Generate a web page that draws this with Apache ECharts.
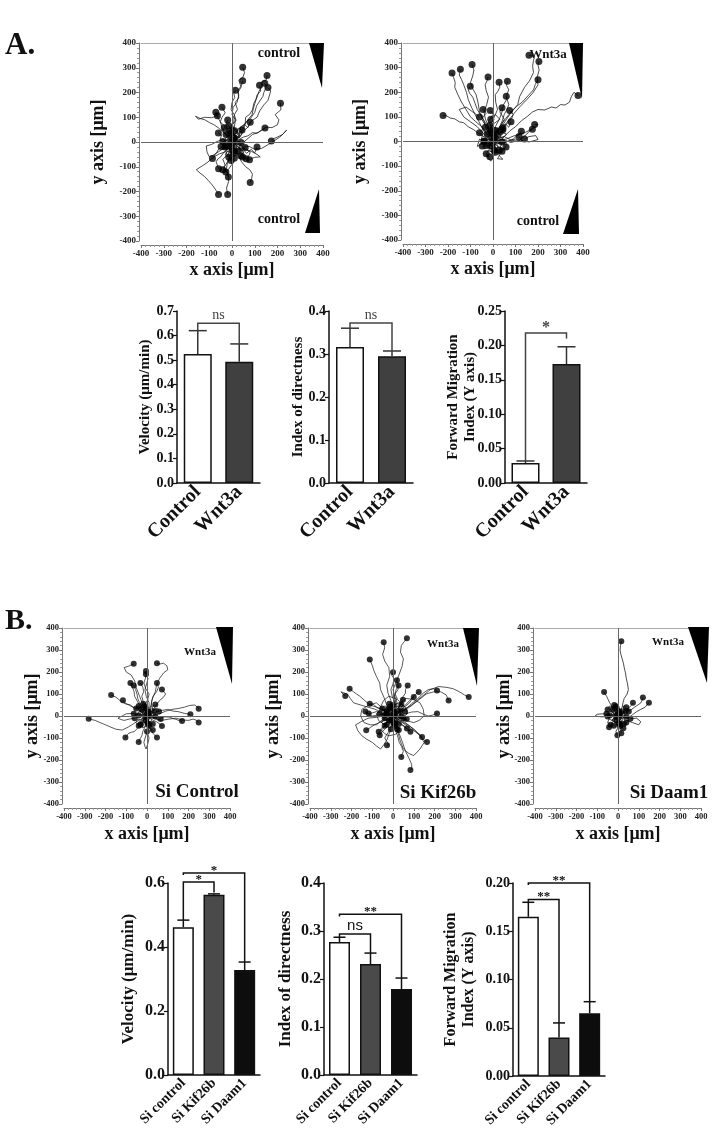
<!DOCTYPE html>
<html><head><meta charset="utf-8">
<script src="https://cdn.jsdelivr.net/npm/echarts@6/dist/echarts.min.js"></script>
<style>html,body{margin:0;padding:0;background:#fff}#c{width:712px;height:1137px}</style>
</head><body><div id="c"></div>
<script>
// ---------------- DATA ----------------
// Cell trajectories (µm); each track starts at the origin, last point = end dot
const tracksA_control = [
 [[0,0],[8,14],[-4,30],[12,48],[2,70],[18,88],[10,110],[24,132],[14,160],[30,178],[26,200],[40,222],[30,250],[48,262],[55,280],[47,302]],
 [[0,0],[12,10],[20,28],[34,40],[40,60],[58,74],[60,100],[78,112],[90,130],[96,156],[110,180],[118,204],[132,226],[126,240],[150,250],[154,269]],
 [[0,0],[-10,18],[-6,40],[10,58],[15,90],[0,110],[5,140],[22,160],[30,190],[26,210],[40,225],[47,247]],
 [[0,0],[15,20],[4,38],[-5,60],[8,82],[10,110],[-4,130],[0,160],[12,180],[8,196],[15,209]],
 [[0,0],[25,15],[36,34],[50,50],[58,72],[70,90],[88,110],[95,140],[104,166],[110,190],[126,206],[121,229]],
 [[0,0],[18,12],[30,30],[44,52],[60,80],[82,96],[100,120],[108,146],[125,170],[136,184],[140,200],[150,220],[144,237]],
 [[0,0],[35,20],[48,42],[70,60],[84,84],[110,100],[122,126],[140,150],[158,168],[165,190],[170,206],[158,220]],
 [[0,0],[20,6],[40,-10],[62,8],[90,30],[118,40],[150,60],[176,58],[200,70],[206,90],[190,110],[204,122],[215,130],[213,157]],
 [[0,0],[-10,14],[-20,25],[-34,40],[-45,60],[-50,80],[-60,95],[-66,108],[-71,120]],
 [[0,0],[-15,15],[-26,30],[-40,40],[-58,56],[-80,70],[-98,78],[-120,90],[-140,95],[-160,104],[-167,97],[-148,92],[-120,100],[-90,98],[-64,106]],
 [[0,0],[-10,16],[-10,30],[5,42],[5,55],[-12,64],[-25,75],[-19,89]],
 [[0,0],[14,6],[30,10],[50,20],[70,25],[90,38],[110,35],[130,48],[145,57]],
 [[0,0],[26,-8],[50,-20],[76,-18],[100,-30],[130,-26],[160,-10],[184,4],[210,20],[226,34],[240,48],[222,30],[200,20],[184,14],[173,4]],
 [[0,0],[-16,-6],[-30,-15],[-44,-20],[-60,-30],[-66,-42],[-75,-50],[-80,-60],[-86,-67]],
 [[0,0],[-10,-18],[-20,-30],[-36,-42],[-50,-60],[-62,-68],[-70,-80],[-64,-94],[-59,-108]],
 [[0,0],[-10,-20],[-10,-40],[-26,-56],[-40,-70],[-34,-84],[-30,-95],[-36,-104],[-41,-112]],
 [[0,0],[5,-20],[5,-40],[-8,-60],[-20,-80],[-26,-90],[-35,-100],[-30,-110],[-27,-121]],
 [[0,0],[-8,-24],[-15,-50],[-6,-70],[0,-90],[-12,-106],[-25,-120],[-20,-132],[-16,-141]],
 [[0,0],[10,-14],[10,-30],[-2,-44],[-10,-55],[-8,-66],[-4,-75]],
 [[0,0],[14,-8],[25,-20],[38,-28],[50,-40],[44,-48],[40,-55],[47,-61]],
 [[0,0],[20,-14],[40,-25],[60,-30],[80,-40],[76,-52],[70,-60],[62,-68]],
 [[0,0],[30,-12],[60,-30],[86,-38],[110,-50],[124,-60],[100,-62],[90,-65],[77,-72]],
 [[0,0],[14,-30],[30,-60],[42,-80],[60,-100],[78,-112],[90,-130],[86,-148],[80,-164]],
 [[0,0],[-16,-20],[-30,-40],[-56,-48],[-80,-60],[-110,-84],[-130,-96],[-157,-112],[-140,-126],[-120,-140],[-104,-156],[-90,-170],[-74,-190],[-59,-212]],
 [[0,0],[-4,-30],[-10,-60],[-20,-84],[-25,-110],[-16,-134],[-15,-160],[-24,-186],[-19,-212]],
 [[0,0],[-20,6],[-40,10],[-66,2],[-90,-10],[-113,-16],[-110,-40],[-100,-60],[-80,-52],[-60,-40],[-44,-30],[-30,-20]]
];
const coreA_control = [
 [[0,0],[8,-12],[-6,-20],[-18,-8],[-10,10],[-25,18],[-35,5],[-28,-15]],
 [[0,0],[-12,6],[-4,22],[14,30],[22,15],[35,20],[28,38],[12,45]],
 [[0,0],[14,-6],[26,4],[38,-10],[30,-28],[46,-36],[58,-22]],
 [[0,0],[-6,-14],[6,-30],[-8,-42],[-22,-36],[-30,-52],[-14,-62]],
 [[0,0],[10,12],[-2,26],[-16,20],[-28,34],[-20,50],[-34,58]],
 [[0,0],[-14,-4],[-26,8],[-40,-2],[-52,10],[-46,28],[-60,36]],
 [[0,0],[6,18],[20,10],[30,26],[18,40],[30,56],[44,48]],
 [[0,0],[-8,10],[4,16],[-4,-8],[12,-18],[20,-4],[10,8]],
 [[0,0],[16,14],[8,30],[24,40],[10,58],[-6,50],[-14,66]],
 [[0,0],[-18,-16],[-10,-32],[-26,-44],[-16,-58],[4,-50],[10,-66]],
 [[0,0],[22,-14],[12,-28],[28,-40],[42,-30],[52,-44],[38,-56]],
 [[0,0],[-20,12],[-12,-4],[-30,-12],[-22,-26],[-40,-30],[-48,-18]],
 [[0,0],[12,24],[30,18],[44,32],[36,60],[56,70],[70,58],[80,80]],
 [[0,0],[-24,24],[-40,44],[-30,64],[-52,80],[-44,100],[-30,118],[-44,140]],
 [[0,0],[24,-30],[44,-24],[64,-46],[84,-30],[100,-44],[110,-20]]
];
const tracksA_wnt3a = [
 [[0,0],[14,20],[20,40],[40,62],[60,90],[82,120],[110,150],[118,182],[140,220],[162,246],[180,280],[176,306],[180,330],[185,345],[160,350]],
 [[0,0],[20,26],[40,50],[64,80],[90,110],[118,140],[150,170],[176,196],[200,230],[196,260],[205,290],[200,310],[204,325]],
 [[0,0],[14,28],[30,60],[54,90],[80,120],[104,142],[130,160],[156,186],[180,210],[188,232],[200,251]],
 [[0,0],[26,14],[50,20],[76,44],[100,60],[126,84],[150,100],[176,120],[200,130],[230,128],[260,140],[280,136],[300,150],[320,148],[340,160],[348,182],[360,200],[370,192],[378,187]],
 [[0,0],[10,30],[10,60],[28,90],[40,120],[46,148],[60,170],[62,192],[70,210],[60,228],[64,245]],
 [[0,0],[-10,36],[-10,70],[6,100],[20,130],[12,160],[10,190],[22,204],[30,220],[27,241]],
 [[0,0],[-12,30],[-20,60],[-34,92],[-40,120],[-28,150],[-20,180],[-30,206],[-35,230],[-26,248],[-22,262]],
 [[0,0],[-14,26],[-30,50],[-42,86],[-60,120],[-66,156],[-75,190],[-90,214],[-100,240],[-90,266],[-85,290],[-93,313]],
 [[0,0],[-20,22],[-40,40],[-60,76],[-80,110],[-96,140],[-110,170],[-118,200],[-130,230],[-140,252],[-150,270],[-145,293]],
 [[0,0],[-26,30],[-50,60],[-76,80],[-100,100],[-120,130],[-140,160],[-156,190],[-170,220],[-168,240],[-175,260],[-182,278]],
 [[0,0],[-14,36],[-30,70],[-50,100],[-70,130],[-80,156],[-90,180],[-104,196],[-110,210],[-101,224]],
 [[0,0],[-30,14],[-60,30],[-86,48],[-110,60],[-130,76],[-150,80],[-170,92],[-190,95],[-206,104],[-222,106]],
 [[0,0],[16,30],[30,60],[42,86],[50,110],[62,130],[70,150],[64,168],[59,184]],
 [[0,0],[-10,26],[-20,50],[-36,70],[-50,90],[-40,104],[-30,115],[-44,130]],
 [[0,0],[10,20],[10,40],[-6,60],[-20,80],[-10,96],[0,110],[-12,126]],
 [[0,0],[8,26],[20,50],[38,70],[50,90],[40,106],[30,120],[40,137]],
 [[0,0],[20,20],[40,40],[52,62],[70,80],[84,96],[90,110],[74,126]],
 [[0,0],[30,6],[60,10],[90,22],[120,30],[146,38],[170,50],[188,58],[200,70],[185,69]],
 [[0,0],[26,12],[50,20],[80,6],[110,0],[130,14],[150,30],[162,42],[175,50]],
 [[0,0],[20,-6],[40,-10],[64,0],[90,10],[104,22],[120,30],[126,42]],
 [[0,0],[26,-4],[50,-5],[76,4],[100,10],[116,4],[130,0],[116,20]],
 [[0,0],[10,16],[20,30],[36,36],[50,40],[44,56]],
 [[0,0],[10,-16],[10,-30],[22,-46],[30,-60],[44,-72],[50,-80],[36,-76],[20,-70],[30,-54],[40,-40]],
 [[0,0],[-10,-16],[-20,-30],[-6,-44],[5,-55],[-2,-70],[-10,-80],[-22,-64],[-30,-50]],
 [[0,0],[40,10],[80,-4],[120,6],[160,-2],[200,8],[190,24],[160,20],[140,10]]
];
const coreA_wnt3a = [
 [[0,0],[8,-12],[-6,-20],[-18,-8],[-10,10],[-25,18],[-35,5],[-28,-15]],
 [[0,0],[-12,6],[-4,22],[14,30],[22,15],[35,20],[28,38],[12,45]],
 [[0,0],[14,-6],[26,4],[38,-10],[30,-28],[46,-36],[58,-22]],
 [[0,0],[-6,-14],[6,-30],[-8,-42],[-22,-36],[-30,-52],[-14,-62]],
 [[0,0],[10,12],[-2,26],[-16,20],[-28,34],[-20,50],[-34,58]],
 [[0,0],[-14,-4],[-26,8],[-40,-2],[-52,10],[-46,28],[-60,36]],
 [[0,0],[6,18],[20,10],[30,26],[18,40],[30,56],[44,48]],
 [[0,0],[16,14],[8,30],[24,40],[10,58],[-6,50],[-14,66]],
 [[0,0],[-20,12],[-12,-4],[-30,-12],[-22,-26],[-40,-30],[-48,-18]],
 [[0,0],[12,24],[30,18],[44,32],[36,60],[56,70],[70,58],[80,80]],
 [[0,0],[-40,30],[-70,60],[-100,80],[-130,100],[-150,130],[-120,140],[-90,120],[-60,100]],
 [[0,0],[20,-20],[50,-30],[60,-10],[40,10],[60,30],[30,40]],
 [[0,0],[-30,-20],[-50,-10],[-70,-20],[-60,10],[-40,0]],
 [[0,0],[-20,40],[0,70],[30,90],[10,110],[-10,90]]
];
const tracksB_siControl = [
 [[0,0],[-20,-10],[-40,-20],[-66,-36],[-90,-50],[-120,-64],[-150,-60],[-176,-50],[-200,-40],[-226,-30],[-250,-20],[-268,-16],[-281,-12]],
 [[0,0],[-20,16],[-40,30],[-60,36],[-80,50],[-106,56],[-130,70],[-150,86],[-173,95]],
 [[0,0],[-16,12],[-30,20],[-50,34],[-70,40],[-86,50],[-100,55],[-110,66],[-116,72]],
 [[0,0],[-10,26],[-20,50],[-30,76],[-40,100],[-52,130],[-60,160],[-76,186],[-100,200],[-110,220],[-90,226],[-64,237]],
 [[0,0],[10,30],[10,60],[-4,90],[-10,120],[-2,146],[5,170],[-4,190],[-5,205]],
 [[0,0],[-10,24],[-10,50],[4,76],[10,100],[-6,124],[-15,150],[-8,170],[-5,190]],
 [[0,0],[10,26],[20,50],[26,80],[40,110],[46,140],[60,170],[80,196],[100,210],[96,228],[80,240],[60,236],[48,240]],
 [[0,0],[-16,20],[-30,40],[-46,66],[-60,90],[-62,110],[-70,130],[-80,150]],
 [[0,0],[-10,20],[-20,40],[-36,60],[-45,80],[-48,100],[-55,120],[-64,139]],
 [[0,0],[-6,26],[-10,50],[-20,70],[-25,90],[-16,110],[-20,130],[-32,150]],
 [[0,0],[12,20],[20,40],[22,66],[30,90],[46,110],[55,130],[48,150]],
 [[0,0],[16,14],[30,30],[46,50],[60,70],[78,84],[90,100],[72,120]],
 [[0,0],[30,4],[60,10],[90,22],[120,30],[150,34],[180,40],[206,48],[230,50],[244,40],[249,33]],
 [[0,0],[26,12],[50,20],[76,26],[100,30],[126,22],[150,20],[180,12],[209,8]],
 [[0,0],[30,-6],[60,-10],[86,-4],[110,-5],[126,-12],[140,-15],[156,-22],[169,-23]],
 [[0,0],[36,-12],[70,-20],[106,-14],[140,-10],[170,-18],[200,-20],[222,-14],[240,-20],[249,-30]],
 [[0,0],[-16,-20],[-30,-40],[-46,-56],[-60,-70],[-76,-74],[-90,-80],[-98,-90],[-104,-98]],
 [[0,0],[-6,-26],[-10,-50],[-20,-70],[-25,-90],[-34,-104],[-40,-118]],
 [[0,0],[6,-26],[10,-50],[20,-64],[30,-80],[40,-90],[48,-98]],
 [[0,0],[16,-10],[30,-20],[46,-26],[60,-35],[66,-40],[72,-45]],
 [[0,0],[-8,-10],[-15,-20],[-24,-22],[-30,-25],[-32,-38]],
 [[0,0],[-10,10],[-20,20],[-28,28],[-35,35],[-40,45]],
 [[0,0],[5,-30],[5,-60],[-6,-90],[-15,-120],[-10,-138],[-5,-150],[4,-126],[10,-100],[0,-70]],
 [[0,0],[-30,6],[-60,12],[-100,10],[-120,0],[-140,-10],[-126,-16],[-110,-20],[-86,-14],[-60,-10]]
];
const coreB_siControl = [
 [[0,0],[-10,12],[4,24],[18,14],[30,26],[24,44],[40,52]],
 [[0,0],[12,-8],[6,-24],[-10,-30],[-4,-46],[-20,-54],[-30,-40]],
 [[0,0],[-16,-6],[-28,-20],[-44,-14],[-54,-30],[-40,-44]],
 [[0,0],[8,16],[-8,30],[-22,24],[-30,40],[-18,56]],
 [[0,0],[18,6],[28,-10],[44,-4],[52,-20],[66,-14]],
 [[0,0],[-6,-18],[14,-26],[24,-40],[12,-56],[28,-64]],
 [[0,0],[-20,8],[-32,24],[-24,40],[-40,46],[-52,34]],
 [[0,0],[10,-4],[20,12],[10,26],[26,34],[36,22]],
 [[0,0],[-12,-12],[-2,-22],[-18,-30],[-8,-40],[6,-34]],
 [[0,0],[14,20],[28,14],[36,30],[50,36],[58,20]],
 [[0,0],[-24,-2],[-20,16],[-40,20],[-48,4],[-64,10]],
 [[0,0],[4,-14],[-14,-10],[-20,6],[-6,14],[8,4]]
];
const tracksB_siKif26b = [
 [[0,0],[10,30],[20,60],[8,90],[0,120],[16,156],[30,190],[44,226],[50,260],[36,290],[40,320],[56,340],[67,353]],
 [[0,0],[-6,36],[-10,70],[-24,104],[-30,140],[-16,180],[-20,220],[-40,250],[-50,280],[-40,310],[-45,335]],
 [[0,0],[-16,24],[-30,50],[-44,86],[-60,120],[-64,150],[-80,180],[-92,206],[-100,230],[-112,257]],
 [[0,0],[10,30],[10,60],[-4,90],[-10,120],[0,146],[5,170],[-6,186],[0,199]],
 [[0,0],[14,24],[20,50],[6,76],[10,100],[24,120],[25,140],[19,162]],
 [[0,0],[-10,20],[-10,40],[6,60],[20,80],[10,100],[15,120],[27,139]],
 [[0,0],[16,20],[30,40],[36,66],[50,90],[60,104],[60,120],[71,139]],
 [[0,0],[20,16],[40,30],[60,50],[80,70],[96,86],[110,100],[124,109]],
 [[0,0],[30,14],[60,30],[90,56],[120,80],[146,104],[170,120],[194,124],[212,116]],
 [[0,0],[40,20],[80,40],[120,70],[160,100],[196,110],[230,110],[256,96],[268,71]],
 [[0,0],[44,26],[90,50],[136,86],[180,120],[220,134],[260,130],[290,124],[320,110],[344,96],[365,86]],
 [[0,0],[30,6],[60,10],[90,18],[120,20],[146,8],[170,0],[190,4],[212,11]],
 [[0,0],[-30,12],[-60,20],[-90,32],[-120,40],[-156,50],[-190,60],[-206,80],[-220,100],[-240,106],[-250,110],[-240,98],[-230,91]],
 [[0,0],[-26,16],[-50,30],[-80,40],[-110,50],[-136,70],[-160,90],[-176,100],[-190,110],[-209,124]],
 [[0,0],[-20,10],[-40,20],[-60,30],[-80,40],[-92,52],[-100,60],[-112,56]],
 [[0,0],[-26,6],[-50,10],[-76,4],[-100,0],[-116,8],[-130,15],[-133,21]],
 [[0,0],[-20,4],[-40,5],[-60,14],[-80,20],[-100,14],[-117,11]],
 [[0,0],[-20,-10],[-40,-20],[-66,-30],[-90,-40],[-106,-50],[-120,-60],[-129,-65]],
 [[0,0],[-16,-14],[-30,-30],[-40,-46],[-50,-60],[-60,-66],[-69,-72]],
 [[0,0],[-10,-20],[-20,-40],[-36,-56],[-50,-70],[-58,-80],[-64,-88]],
 [[0,0],[-6,-26],[-10,-50],[-24,-76],[-40,-100],[-30,-116],[-20,-130],[-29,-133]],
 [[0,0],[6,-30],[10,-60],[22,-90],[30,-120],[42,-140],[50,-160],[44,-174],[40,-186]],
 [[0,0],[16,-40],[30,-80],[46,-120],[60,-160],[76,-190],[90,-220],[90,-236],[84,-246]],
 [[0,0],[30,-20],[60,-40],[90,-60],[120,-80],[136,-96],[150,-110],[164,-118]],
 [[0,0],[26,-16],[50,-30],[76,-44],[100,-60],[116,-74],[130,-85],[140,-95]],
 [[0,0],[16,-14],[30,-30],[46,-40],[60,-50],[67,-57]],
 [[0,0],[20,-20],[40,-40],[56,-50],[70,-60],[84,-72]],
 [[0,0],[10,16],[20,30],[32,46],[40,60],[48,74]],
 [[0,0],[20,16],[40,30],[60,44],[80,60],[90,74],[100,86]],
 [[0,0],[-40,0],[-80,-6],[-120,-10],[-150,-24],[-180,-40],[-170,-66],[-150,-90],[-126,-106],[-100,-120],[-80,-136],[-60,-150],[-44,-130],[-30,-110],[-20,-84],[-10,-60]],
 [[0,0],[30,-16],[60,-30],[100,-60],[130,-90],[150,-120],[130,-150],[100,-180],[76,-170],[50,-150],[34,-110],[20,-60]],
 [[0,0],[-30,20],[-56,40],[-80,60],[-116,50],[-150,30],[-156,0],[-140,-30],[-110,-40],[-80,-40],[-60,-24],[-40,-10]],
 [[0,0],[20,30],[40,56],[60,80],[96,76],[130,60],[146,30],[150,0],[126,-20],[100,-30],[76,-24],[50,-10]],
 [[0,0],[-30,30],[0,46],[30,40],[36,6],[20,-30],[0,-34],[-20,-20]],
 [[0,0],[-30,-30],[-60,-60],[-40,-80],[-20,-90],[10,-84],[30,-70],[24,-50],[10,-30]],
 [[0,0],[26,26],[50,50],[20,76],[-20,90],[-46,70],[-60,40],[-44,24],[-30,10]]
];
const coreB_siKif26b = [
 [[0,0],[-10,12],[4,24],[18,14],[30,26],[24,44],[40,52]],
 [[0,0],[12,-8],[6,-24],[-10,-30],[-4,-46],[-20,-54],[-30,-40]],
 [[0,0],[-16,-6],[-28,-20],[-44,-14],[-54,-30],[-40,-44]],
 [[0,0],[8,16],[-8,30],[-22,24],[-30,40],[-18,56]],
 [[0,0],[18,6],[28,-10],[44,-4],[52,-20],[66,-14]],
 [[0,0],[-6,-18],[14,-26],[24,-40],[12,-56],[28,-64]],
 [[0,0],[-20,8],[-32,24],[-24,40],[-40,46],[-52,34]],
 [[0,0],[10,-4],[20,12],[10,26],[26,34],[36,22]],
 [[0,0],[-12,-12],[-2,-22],[-18,-30],[-8,-40],[6,-34]],
 [[0,0],[14,20],[28,14],[36,30],[50,36],[58,20]],
 [[0,0],[-24,-2],[-20,16],[-40,20],[-48,4],[-64,10]],
 [[0,0],[4,-14],[-14,-10],[-20,6],[-6,14],[8,4]],
 [[0,0],[40,-10],[70,10],[60,40],[30,60],[0,50]],
 [[0,0],[-40,-40],[-70,-20],[-80,10],[-60,30],[-30,20]]
];
const tracksB_siDaam1 = [
 [[0,0],[10,20],[20,40],[24,60],[30,80],[44,100],[50,120],[46,146],[40,170],[36,196],[30,220],[26,240],[20,260],[14,280],[10,300],[12,320],[16,340]],
 [[0,0],[-10,16],[-20,30],[-30,46],[-40,60],[-48,76],[-55,90],[-62,100],[-67,109]],
 [[0,0],[16,10],[30,20],[44,30],[55,40],[66,50],[72,60]],
 [[0,0],[20,10],[40,20],[60,26],[80,40],[96,50],[110,60],[116,72],[120,84]],
 [[0,0],[26,-4],[50,-10],[70,6],[90,20],[110,30],[130,40],[140,50],[149,60]],
 [[0,0],[-10,-10],[-20,-20],[-28,-30],[-35,-40],[-43,-51]],
 [[0,0],[4,-20],[5,-40],[-2,-56],[-10,-70],[-6,-80],[-3,-88]],
 [[0,0],[12,-14],[20,-30],[14,-46],[10,-60],[14,-70],[16,-78]],
 [[0,0],[40,-20],[70,-30],[100,-40],[110,-26],[90,-10],[60,-12]],
 [[0,0],[-40,6],[-70,10],[-100,8],[-110,0],[-80,-4],[-50,-2]]
];
const coreB_siDaam1 = [
 [[0,0],[-10,12],[4,24],[18,14],[30,26],[24,44],[40,40]],
 [[0,0],[12,-8],[6,-24],[-10,-30],[-4,-46],[-20,-44]],
 [[0,0],[-16,-6],[-28,-20],[-44,-14],[-50,-30],[-36,-40]],
 [[0,0],[8,16],[-8,30],[-22,24],[-30,40],[-18,50]],
 [[0,0],[18,6],[28,-10],[44,-4],[50,-20],[40,-30]],
 [[0,0],[-6,-18],[14,-26],[24,-40],[12,-50],[26,-56]],
 [[0,0],[-20,8],[-32,24],[-24,40],[-40,46],[-50,30]],
 [[0,0],[10,-4],[20,12],[10,26],[26,34],[36,22]],
 [[0,0],[-12,-12],[-2,-22],[-18,-30],[-8,-40],[6,-34]],
 [[0,0],[14,20],[28,14],[36,30],[50,36],[52,20]],
 [[0,0],[-24,-2],[-20,16],[-40,20],[-48,4],[-56,10]],
 [[0,0],[4,-14],[-14,-10],[-20,6],[-6,14],[8,4]],
 [[0,0],[30,10],[20,30],[0,36],[-14,20],[-4,8]],
 [[0,0],[-30,-20],[-10,-30],[10,-20],[20,0],[6,14]]
];
// short tracks of cells that barely moved (dense centre of every plot)
const coreSmall = [
 [[0,0],[6,8],[-4,14],[-12,4],[-20,12],[-14,24],[-26,30]],
 [[0,0],[-6,-8],[4,-16],[14,-8],[22,-18],[16,-30],[28,-36]],
 [[0,0],[10,-2],[8,12],[20,18],[14,30],[2,26],[-6,36]],
 [[0,0],[-10,2],[-8,-12],[-20,-18],[-14,-30],[-2,-26],[6,-36]],
 [[0,0],[4,10],[16,6],[12,-6],[24,-10],[30,4],[40,-2]],
 [[0,0],[-4,-10],[-16,-6],[-12,6],[-24,10],[-30,-4],[-40,2]],
 [[0,0],[12,12],[0,20],[-12,12],[-8,0],[-18,-10],[-6,-18]],
 [[0,0],[-12,-12],[0,-20],[12,-12],[8,0],[18,10],[6,18]],
 [[0,0],[20,4],[26,20],[10,30],[-4,20],[-16,30],[-10,44]],
 [[0,0],[-20,-4],[-26,-20],[-10,-30],[4,-20],[16,-30],[10,-44]]
];

// Bar charts: means and SEM
const catsA = ['Control', 'Wnt3a'];
const velocityA = [0.525, 0.493];
const velocityA_sem = [0.095, 0.073];
const directnessA = [0.316, 0.295];
const directnessA_sem = [0.044, 0.012];
const forwardA = [0.029, 0.173];
const forwardA_sem = [0.003, 0.025];

const catsB = ['Si control', 'Si Kif26b', 'Si Daam1'];
const velocityB = [0.462, 0.563, 0.328];
const velocityB_sem = [0.022, 0.003, 0.025];
const directnessB = [0.277, 0.231, 0.179];
const directnessB_sem = [0.010, 0.023, 0.023];
const forwardB = [0.165, 0.040, 0.065];
const forwardB_sem = [0.015, 0.015, 0.012];

// Significance brackets: [from, to, level, left end, right end]
const sigVelA = [[0, 1, 0.650, 0.620, 0.566]];
const sigVelA_text = ['ns'];
const sigDirA = [[0, 1, 0.372, 0.360, 0.307]];
const sigDirA_text = ['ns'];
const sigFwdA = [[0, 1, 0.218, 0.032, 0.210]];
const sigFwdA_text = ['*'];
const sigVelB = [[0, 1, 0.603, 0.484, 0.570], [0, 2, 0.631, 0.625, 0.353]];
const sigVelB_text = ['*', '*'];
const sigDirB = [[0, 1, 0.294, 0.287, 0.254], [0, 2, 0.335, 0.330, 0.202]];
const sigDirB_text = ['ns', '**'];
const sigFwdB = [[0, 1, 0.183, 0.180, 0.055], [0, 2, 0.200, 0.198, 0.077]];
const sigFwdB_text = ['**', '**'];

// ---------------- CHART ----------------
const SERIF = '"Liberation Serif","Times New Roman",serif';
const SANS = '"Liberation Sans",Arial,sans-serif';
const grids = [], xAxes = [], yAxes = [], series = [];

function addTraj(tracks, box, o) {
  const gi = grids.length;
  grids.push({left: box[0], top: box[1], width: box[2], height: box[3]});
  const xi = xAxes.length;
  xAxes.push({gridIndex: gi, type: 'value', min: -400, max: 400, interval: 100, position: 'bottom', offset: 4,
    axisLine: {onZero: false, lineStyle: {color: '#777', width: 1}},
    axisTick: {length: 3, lineStyle: {color: '#777'}},
    minorTick: {show: true, splitNumber: 5, length: 2, lineStyle: {color: '#999'}},
    splitLine: {show: false},
    axisLabel: {fontFamily: SERIF, fontWeight: 'bold', fontSize: o.tick, color: '#222', margin: 4},
    name: 'x axis [μm]', nameLocation: 'middle', nameGap: o.xGap, nameMoveOverlap: false,
    nameTextStyle: {fontFamily: SERIF, fontWeight: 'bold', fontSize: 18, color: '#111'}});
  xAxes.push({gridIndex: gi, type: 'value', min: -400, max: 400, position: 'top',
    axisLine: {onZero: false, lineStyle: {color: '#aaa', width: 1}},
    axisTick: {show: false}, axisLabel: {show: false}, splitLine: {show: false}});
  const yi = yAxes.length;
  yAxes.push({gridIndex: gi, type: 'value', min: -400, max: 400, interval: 100, offset: 2,
    axisLine: {show: true, onZero: false, lineStyle: {color: '#777', width: 1}},
    axisTick: {show: true, length: 3, lineStyle: {color: '#777'}},
    minorTick: {show: true, splitNumber: 5, length: 2, lineStyle: {color: '#999'}},
    splitLine: {show: false},
    axisLabel: {fontFamily: SERIF, fontWeight: 'bold', fontSize: o.tick, color: '#222', margin: 3},
    name: 'y axis [μm]', nameLocation: 'middle', nameGap: o.yGap, nameMoveOverlap: false,
    nameTextStyle: {fontFamily: SERIF, fontWeight: 'bold', fontSize: 18, color: '#111'}});
  tracks.forEach(t => {
    series.push({type: 'line', xAxisIndex: xi, yAxisIndex: yi, data: t, showSymbol: false, silent: true,
      lineStyle: {color: '#111', width: o.lw}, z: 3});
  });
  series.push({type: 'scatter', xAxisIndex: xi, yAxisIndex: yi, symbolSize: o.dot, silent: true,
    itemStyle: {color: '#000'}, data: tracks.map(t => t[t.length - 1]), z: 4,
    markLine: {silent: true, symbol: 'none', label: {show: false}, animation: false,
      lineStyle: {color: '#666', width: 1, type: 'solid'}, data: [{xAxis: 0}, {yAxis: 0}]}});
}

function addBar(box, cats, means, sems, colors, sig, sigText, o) {
  const gi = grids.length;
  grids.push({left: box[0], top: box[1], width: box[2], height: box[3]});
  const xi = xAxes.length;
  xAxes.push({gridIndex: gi, type: 'category', data: cats,
    axisLine: {lineStyle: {color: '#111', width: 1.5}},
    axisTick: {alignWithLabel: true, length: 4, lineStyle: {color: '#111', width: 1.2}},
    axisLabel: {interval: 0, rotate: 45, fontFamily: SERIF, fontWeight: 'bold', fontSize: o.catFont, color: '#111', margin: 6}});
  const yi = yAxes.length;
  yAxes.push({gridIndex: gi, type: 'value', min: 0, max: o.max, interval: o.step,
    axisLine: {show: true, lineStyle: {color: '#111', width: 1.5}},
    axisTick: {show: true, length: 4, lineStyle: {color: '#111', width: 1.2}},
    splitLine: {show: false},
    axisLabel: {fontFamily: SERIF, fontWeight: 'bold', fontSize: o.tickFont, color: '#111', margin: 3,
      formatter: v => v.toFixed(o.dec)},
    name: o.name, nameLocation: 'middle', nameGap: o.nameGap, nameMoveOverlap: false,
    nameTextStyle: {fontFamily: SERIF, fontWeight: 'bold', fontSize: o.nameFont, color: '#111', lineHeight: o.nameFont + 2}});
  series.push({type: 'bar', xAxisIndex: xi, yAxisIndex: yi, barWidth: o.bw, silent: true,
    data: means.map((v, i) => ({value: v, itemStyle: {color: colors[i]}})),
    itemStyle: {borderColor: '#111', borderWidth: 1.5}, z: 2});
  const ec = o.errColor;
  series.push({type: 'custom', xAxisIndex: xi, yAxisIndex: yi, silent: true, z: 5, clip: false,
    data: means.map((v, i) => [i, v, sems[i]]),
    renderItem: (p, api) => {
      const i = api.value(0), m = api.value(1), s = api.value(2);
      const p0 = api.coord([i, m]), p1 = api.coord([i, m + s]);
      const hw = o.cap / 2;
      return {type: 'group', children: [
        {type: 'line', shape: {x1: p0[0], y1: p0[1], x2: p1[0], y2: p1[1]}, style: {stroke: ec, lineWidth: 1.5}},
        {type: 'line', shape: {x1: p1[0] - hw, y1: p1[1], x2: p1[0] + hw, y2: p1[1]}, style: {stroke: ec, lineWidth: 1.5}}
      ]};
    }});
  series.push({type: 'custom', xAxisIndex: xi, yAxisIndex: yi, silent: true, z: 6, clip: false,
    data: sig,
    renderItem: (p, api) => {
      const a = api.value(0), b = api.value(1), y = api.value(2), ya = api.value(3), yb = api.value(4);
      const A = api.coord([a, y]), B = api.coord([b, y]), pa = api.coord([a, ya]), pb = api.coord([b, yb]);
      const txt = sigText[p.dataIndex];
      const isNs = txt === 'ns';
      return {type: 'group', children: [
        {type: 'polyline', shape: {points: [pa, A, B, pb]}, style: {stroke: o.sigColor, lineWidth: 1.5, fill: null}},
        {type: 'text', style: {text: txt, x: (A[0] + B[0]) / 2, y: A[1] + (isNs ? -1 : o.starDy),
          align: 'center', verticalAlign: 'bottom', textAlign: 'center', textVerticalAlign: 'bottom',
          font: isNs ? o.nsFont : o.starFont, fill: o.sigColor}}
      ]};
    }});
}

// Trajectory plots
addTraj(tracksA_control.concat(coreA_control, coreSmall), [141, 43, 182, 198], {tick: 9, xGap: 16, yGap: 32, lw: 0.75, dot: 7});
addTraj(tracksA_wnt3a.concat(coreA_wnt3a, coreSmall), [403, 43, 180, 197], {tick: 9, xGap: 16, yGap: 32, lw: 0.75, dot: 7});
addTraj(tracksB_siControl.concat(coreB_siControl, coreSmall), [64, 628, 166, 176], {tick: 8.5, xGap: 17, yGap: 21, lw: 0.7, dot: 6});
addTraj(tracksB_siKif26b.concat(coreB_siKif26b, coreSmall), [310, 628, 166, 176], {tick: 8.5, xGap: 17, yGap: 26, lw: 0.7, dot: 6});
addTraj(tracksB_siDaam1.concat(coreB_siDaam1, coreSmall), [535, 628, 166, 176], {tick: 8.5, xGap: 17, yGap: 20, lw: 0.75, dot: 6});

// Bar charts A
const colA = ['#ffffff', '#404040'];
const baseA = {catFont: 20, tickFont: 14, bw: 28, cap: 18, errColor: '#333', sigColor: '#444',
  nsFont: '14px ' + SERIF, starFont: 'bold 16px ' + SERIF, starDy: 3, nameFont: 15};
addBar([177, 311, 83, 172], catsA, velocityA, velocityA_sem, colA, sigVelA, sigVelA_text,
  Object.assign({}, baseA, {max: 0.7, step: 0.1, dec: 1, name: 'Velocity (μm/min)', nameGap: 23}));
addBar([329, 311, 84, 172], catsA, directnessA, directnessA_sem, colA, sigDirA, sigDirA_text,
  Object.assign({}, baseA, {max: 0.4, step: 0.1, dec: 1, name: 'Index of directness', nameGap: 22}));
addBar([505, 311, 82, 172], catsA, forwardA, forwardA_sem, colA, sigFwdA, sigFwdA_text,
  Object.assign({}, baseA, {max: 0.25, step: 0.05, dec: 2, name: 'Forward Migration\nIndex (Y axis)', nameGap: 26}));

// Bar charts B
const colB = ['#ffffff', '#4a4a4a', '#0d0d0d'];
const baseB = {catFont: 14, bw: 21, cap: 12, errColor: '#111', sigColor: '#111',
  nsFont: '15px ' + SANS, starFont: 'bold 13px ' + SERIF, starDy: 4, nameFont: 17};
addBar([168, 883, 92, 192], catsB, velocityB, velocityB_sem, colB, sigVelB, sigVelB_text,
  Object.assign({}, baseB, {tickFont: 16, max: 0.6, step: 0.2, dec: 1, name: 'Velocity (μm/min)', nameGap: 30}));
addBar([324, 883, 93, 192], catsB, directnessB, directnessB_sem, colB, sigDirB, sigDirB_text,
  Object.assign({}, baseB, {tickFont: 16, max: 0.4, step: 0.1, dec: 1, name: 'Index of directness', nameGap: 29}));
addBar([513, 883, 92, 193], catsB, forwardB, forwardB_sem, colB, sigFwdB, sigFwdB_text,
  Object.assign({}, baseB, {tickFont: 14, max: 0.20, step: 0.05, dec: 2, name: 'Forward Migration\nIndex (Y axis)', nameGap: 35, nameFont: 16}));

function txt(s, x, y, size, align) {
  return {type: 'text', silent: true, z: 50, style: {text: s, x: x, y: y, font: 'bold ' + size + 'px ' + SERIF, fill: '#111',
    align: align || 'center', verticalAlign: 'middle', textAlign: align || 'center', textVerticalAlign: 'middle'}};
}
function tri(pts) {
  return {type: 'polygon', silent: true, z: 50, shape: {points: pts}, style: {fill: '#000'}};
}
const graphics = [
  {type: 'text', silent: true, style: {text: 'A.', x: 5, y: 30, font: 'bold 31px ' + SERIF, fill: '#111',
    verticalAlign: 'alphabetic', textVerticalAlign: 'alphabetic'}},
  {type: 'text', silent: true, style: {text: 'B.', x: 5, y: 606, font: 'bold 30px ' + SERIF, fill: '#111',
    verticalAlign: 'alphabetic', textVerticalAlign: 'alphabetic'}},
  txt('control', 279, 53, 14), tri([[309, 43], [324, 43], [322, 88]]),
  txt('control', 279, 219, 14), tri([[305, 233], [320, 233], [319, 189]]),
  txt('Wnt3a', 548, 55, 13), tri([[569, 43], [583, 43], [582, 99]]),
  txt('control', 538, 221, 14), tri([[563, 234], [579, 234], [578, 189]]),
  txt('Wnt3a', 200, 652, 11), tri([[216, 627], [233, 627], [232, 684]]),
  txt('Wnt3a', 443, 644, 11), tri([[463, 628], [479, 628], [477, 686]]),
  txt('Wnt3a', 668, 642, 11), tri([[688, 627], [709, 627], [707, 683]]),
  txt('Si Control', 197, 792, 19), txt('Si Kif26b', 438, 793, 19), txt('Si Daam1', 669, 793, 19)
];

const chart = echarts.init(document.getElementById('c'), null, {renderer: 'canvas'});
chart.setOption({animation: false, backgroundColor: '#fff', grid: grids, xAxis: xAxes, yAxis: yAxes,
  series: series, graphic: graphics});
</script></body></html>
